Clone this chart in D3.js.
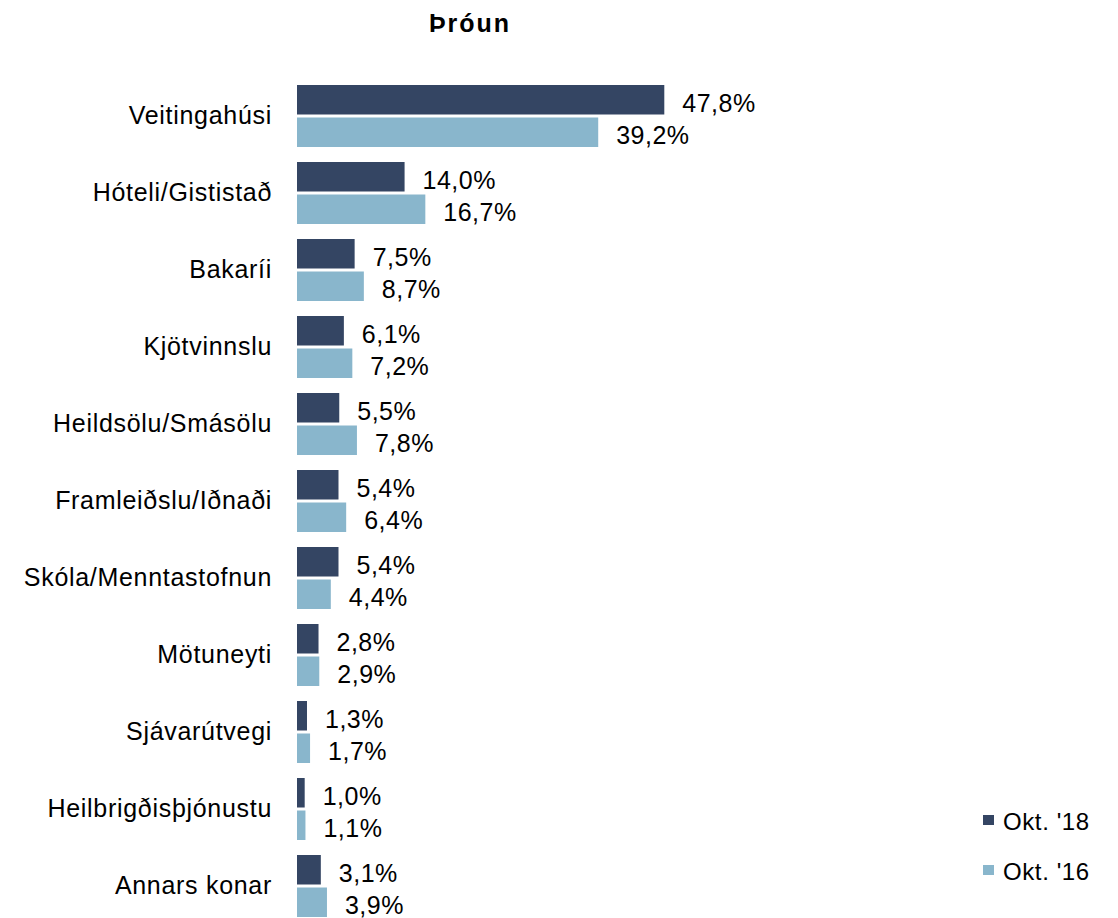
<!DOCTYPE html>
<html><head><meta charset="utf-8">
<script src="https://cdn.jsdelivr.net/npm/d3@7"></script>
<style>body{margin:0;background:#fff}svg{display:block}text{font-family:"Liberation Sans",Arial,sans-serif}</style>
</head><body>
<svg id="c" width="1118" height="918"></svg>
<script>
const categories = ["Veitingahúsi","Hóteli/Gististað","Bakaríi","Kjötvinnslu","Heildsölu/Smásölu","Framleiðslu/Iðnaði","Skóla/Menntastofnun","Mötuneyti","Sjávarútvegi","Heilbrigðisþjónustu","Annars konar"];
const seriesNames = ["Okt. '18","Okt. '16"];
const okt18 = [47.8,14.0,7.5,6.1,5.5,5.4,5.4,2.8,1.3,1.0,3.1];
const okt16 = [39.2,16.7,8.7,7.2,7.8,6.4,4.4,2.9,1.7,1.1,3.9];
const colors = ["#344563","#89b6cc"];
const title = "Þróun";

const svg = d3.select("#c");
const x = d3.scaleLinear().domain([0,47.8]).range([297,664.3]);
const y = d3.scaleBand().domain(categories).range([85,917]).paddingInner(15/77).paddingOuter(0);
const y1 = d3.scaleBand().domain(seriesNames).range([0,y.bandwidth()]).paddingInner(3/32.5).paddingOuter(0);
const color = d3.scaleOrdinal().domain(seriesNames).range(colors);
const fmt = v => d3.format(".1f")(v).replace(".",",") + "%";

svg.append("text").attr("x",470).attr("y",32).attr("text-anchor","middle")
  .attr("font-size",25).attr("letter-spacing",2).attr("font-weight","bold").text(title);

const data = categories.map((c,i)=>({cat:c, vals:[{s:seriesNames[0],v:okt18[i]},{s:seriesNames[1],v:okt16[i]}]}));
const g = svg.append("g").selectAll("g").data(data).join("g")
  .attr("transform",d=>`translate(0,${y(d.cat)})`);
g.selectAll("rect").data(d=>d.vals).join("rect")
  .attr("x",x(0)).attr("y",d=>y1(d.s)).attr("width",d=>x(d.v)-x(0)).attr("height",y1.bandwidth())
  .attr("fill",d=>color(d.s));
g.selectAll("text.v").data(d=>d.vals).join("text").attr("class","v")
  .attr("x",d=>x(d.v)+18).attr("y",d=>y1(d.s)+y1.bandwidth()/2+3)
  .attr("dominant-baseline","central").attr("font-size",25).attr("letter-spacing",0.5)
  .attr("fill","#000").text(d=>fmt(d.v));

// category axis labels
const ax = svg.append("g").attr("transform",`translate(${x(0)},0)`)
  .call(d3.axisLeft(y).tickSize(0).tickPadding(25));
ax.select(".domain").remove();
ax.selectAll("text").attr("font-size",25).attr("letter-spacing",0.7)
  .attr("font-family",'"Liberation Sans",Arial,sans-serif').attr("fill","#000");

// legend
const lg = svg.append("g").selectAll("g").data(seriesNames).join("g")
  .attr("transform",(d,i)=>`translate(983,${815+i*50})`);
lg.append("rect").attr("width",11).attr("height",10).attr("fill",d=>color(d));
lg.append("text").attr("x",20).attr("y",6).attr("dominant-baseline","central")
  .attr("font-size",24).attr("letter-spacing",0.6).text(d=>d);
</script>
</body></html>
